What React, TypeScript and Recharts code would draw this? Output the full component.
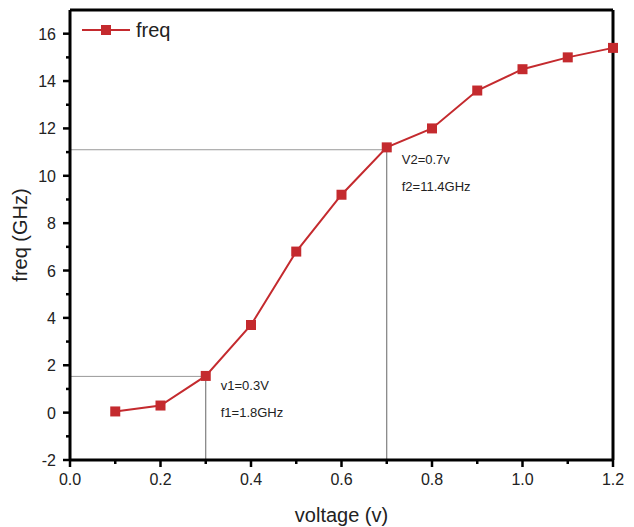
import React from "react";
import {
  LineChart,
  Line,
  XAxis,
  YAxis,
  Legend,
  ReferenceLine,
  ReferenceDot,
} from "recharts";

// ─── Data ────────────────────────────────────────────────────────────────────
const voltage = [0.1, 0.2, 0.3, 0.4, 0.5, 0.6, 0.7, 0.8, 0.9, 1.0, 1.1, 1.2];
const freq = [0.05, 0.3, 1.55, 3.7, 6.8, 9.2, 11.2, 12.0, 13.6, 14.5, 15.0, 15.4];

const xTicks = [0, 0.1, 0.2, 0.3, 0.4, 0.5, 0.6, 0.7, 0.8, 0.9, 1.0, 1.1, 1.2];
const yTicks = [-2, -1, 0, 1, 2, 3, 4, 5, 6, 7, 8, 9, 10, 11, 12, 13, 14, 15, 16];

// guide lines: voltage and frequency where they meet the curve
const guideV = [0.3, 0.7];
const guideF = [1.53, 11.1];
const guideText = [
  ["v1=0.3V", "f1=1.8GHz"],
  ["V2=0.7v", "f2=11.4GHz"],
];

const data = voltage.map((v, i) => ({ voltage: v, freq: freq[i] }));

const RED = "#c42a2e";
const FONT = "'Liberation Sans', Arial, sans-serif";

// ─── Ticks (major with label, minor without) ─────────────────────────────────
const XTick = ({ x, y, payload }: any) => {
  const major = Math.round(payload.value * 10) % 2 === 0;
  return (
    <g>
      <line x1={x} x2={x} y1={y} y2={y + (major ? 7 : 4)} stroke="#000" strokeWidth={2.5} />
      {major && (
        <text x={x} y={y + 25} textAnchor="middle" fontSize={16} fill="#222" fontFamily={FONT}>
          {payload.value.toFixed(1)}
        </text>
      )}
    </g>
  );
};

const YTick = ({ x, y, payload }: any) => {
  const major = payload.value % 2 === 0;
  return (
    <g>
      <line x1={x - (major ? 7 : 4)} x2={x} y1={y} y2={y} stroke="#000" strokeWidth={2.5} />
      {major && (
        <text x={x - 14} y={y + 6} textAnchor="end" fontSize={16} fill="#222" fontFamily={FONT}>
          {payload.value}
        </text>
      )}
    </g>
  );
};

const SquareDot = ({ cx, cy }: any) => (
  <rect x={cx - 5} y={cy - 5} width={10} height={10} fill={RED} />
);

const LegendBox = ({ payload }: any) => (
  <svg width={120} height={24}>
    {(payload || []).map((p: any) => (
      <g key={p.value}>
        <line x1={2} x2={50} y1={12} y2={12} stroke={RED} strokeWidth={2} />
        <rect x={21} y={7} width={10} height={10} fill={RED} />
        <text x={56} y={19} fontSize={20} fill="#222" fontFamily={FONT}>
          {p.value}
        </text>
      </g>
    ))}
  </svg>
);

const Annot = (lines: string[]) => (props: any) => {
  const { x, y } = props.viewBox;
  return (
    <g fontFamily={FONT} fontSize={13} fill="#222">
      <text x={x + 15} y={y + 14}>{lines[0]}</text>
      <text x={x + 15} y={y + 41}>{lines[1]}</text>
    </g>
  );
};

export default function App() {
  return (
    <div style={{ position: "absolute", left: 0, top: 0, background: "#fff" }}>
      <LineChart
        width={634}
        height={527}
        data={data}
        margin={{ top: 10, right: 21, left: 0, bottom: 0 }}
      >
        <XAxis
          dataKey="voltage"
          type="number"
          domain={[0, 1.2]}
          ticks={xTicks}
          interval={0}
          tickSize={0}
          tickMargin={0}
          tickLine={false}
          tick={<XTick />}
          height={67}
          axisLine={{ stroke: "#000", strokeWidth: 3 }}
          label={{
            value: "voltage (v)",
            position: "insideBottom",
            offset: 5,
            fontSize: 20,
            fill: "#222",
            fontFamily: FONT,
          }}
        />
        <YAxis
          type="number"
          domain={[-2, 17]}
          ticks={yTicks}
          interval={0}
          tickSize={0}
          tickMargin={0}
          tickLine={false}
          tick={<YTick />}
          width={70}
          axisLine={{ stroke: "#000", strokeWidth: 3 }}
          label={{
            value: "freq (GHz)",
            angle: -90,
            position: "insideLeft",
            offset: 20,
            style: { textAnchor: "middle" },
            fontSize: 20,
            fill: "#222",
            fontFamily: FONT,
          }}
        />

        <Legend
          layout="horizontal"
          verticalAlign="middle"
          align="center"
          wrapperStyle={{ top: 18, left: 80, width: 130 }}
          content={<LegendBox />}
        />

        {/* guide lines */}
        {guideV.map((v, i) => (
          <ReferenceLine
            key={"h" + i}
            segment={[{ x: 0, y: guideF[i] }, { x: v, y: guideF[i] }]}
            stroke="#999"
            strokeWidth={1}
          />
        ))}
        {guideV.map((v, i) => (
          <ReferenceLine
            key={"v" + i}
            segment={[{ x: v, y: -2 }, { x: v, y: guideF[i] }]}
            stroke="#666"
            strokeWidth={1}
          />
        ))}
        {guideV.map((v, i) => (
          <ReferenceDot
            key={"t" + i}
            x={v}
            y={guideF[i]}
            r={0}
            stroke="none"
            fill="none"
            label={{ content: Annot(guideText[i]) }}
          />
        ))}

        {/* box frame: top and right edges */}
        <ReferenceLine y={17} stroke="#000" strokeWidth={3} />
        <ReferenceLine x={1.2} stroke="#000" strokeWidth={3} />

        <Line
          dataKey="freq"
          name="freq"
          type="linear"
          stroke={RED}
          strokeWidth={2}
          dot={<SquareDot />}
          activeDot={false}
          isAnimationActive={false}
        />
      </LineChart>
    </div>
  );
}
